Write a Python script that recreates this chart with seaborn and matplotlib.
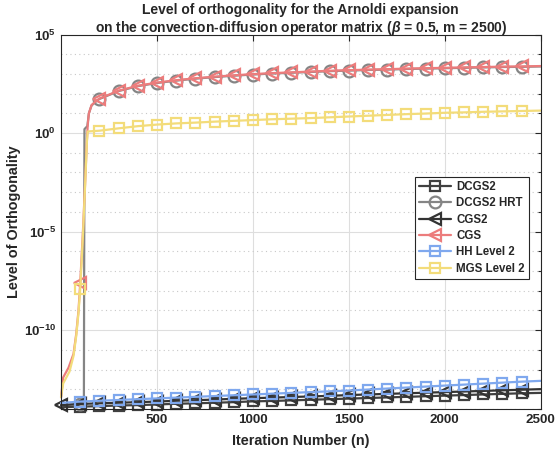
import numpy as np
import matplotlib
matplotlib.use("Agg")
import matplotlib.pyplot as plt
from matplotlib.ticker import FixedLocator, FuncFormatter, NullFormatter
import seaborn as sns

# Iterations at which the orthogonality level was sampled
n_main = [1, 101, 201, 301, 401, 501, 601, 701, 801, 901, 1001, 1101, 1201,
          1301, 1401, 1501, 1601, 1701, 1801, 1901, 2001, 2101, 2201, 2301,
          2401, 2500]

# log10 of the loss of orthogonality, per method
dcgs2_log10 = [-13.90, -13.88, -13.85, -13.82, -13.80, -13.77, -13.73, -13.71,
               -13.68, -13.65, -13.61, -13.59, -13.56, -13.53, -13.50, -13.47,
               -13.44, -13.41, -13.38, -13.35, -13.32, -13.29, -13.26, -13.23,
               -13.20, -13.18]
cgs2_log10 = [-13.80, -13.74, -13.71, -13.68, -13.65, -13.62, -13.58, -13.55,
              -13.52, -13.48, -13.45, -13.42, -13.39, -13.36, -13.33, -13.29,
              -13.26, -13.23, -13.20, -13.17, -13.14, -13.11, -13.08, -13.05,
              -13.02, -12.99]
hh_log10 = [-13.69, -13.62, -13.58, -13.54, -13.50, -13.46, -13.42, -13.38,
            -13.34, -13.30, -13.26, -13.22, -13.18, -13.14, -13.10, -13.06,
            -13.01, -12.96, -12.91, -12.86, -12.81, -12.76, -12.71, -12.66,
            -12.61, -12.57]

n_cgs = [1, 12, 40, 66, 80, 92, 101, 115, 127, 135, 140, 146, 160, 185, 201,
         301, 401, 501, 601, 701, 801, 901, 1001, 1101, 1201, 1301, 1401,
         1501, 1601, 1701, 1801, 1901, 2001, 2101, 2201, 2301, 2401, 2500]
cgs_log10 = [-13.40, -12.40, -11.90, -11.20, -10.20, -9.00, -7.60, -5.00,
             -2.40, -0.50, 0.40, 1.00, 1.42, 1.64, 1.75, 2.15, 2.40, 2.56,
             2.68, 2.78, 2.86, 2.93, 2.99, 3.04, 3.08, 3.12, 3.16, 3.19, 3.22,
             3.24, 3.27, 3.29, 3.31, 3.33, 3.35, 3.37, 3.38, 3.40]

n_hrt = [1, 101, 120, 123, 138, 146, 160, 185, 201, 301, 401, 501, 601, 701,
         801, 901, 1001, 1101, 1201, 1301, 1401, 1501, 1601, 1701, 1801, 1901,
         2001, 2101, 2201, 2301, 2401, 2500]
hrt_log10 = [-13.80, -13.75, -13.72, 0.20, 0.35, 1.00, 1.40, 1.62, 1.73, 2.13,
             2.38, 2.54, 2.66, 2.76, 2.84, 2.91, 2.97, 3.02, 3.06, 3.10, 3.14,
             3.17, 3.20, 3.22, 3.25, 3.27, 3.29, 3.31, 3.33, 3.35, 3.36, 3.38]

n_mgs = [1, 12, 45, 66, 80, 92, 101, 115, 127, 136, 140, 201, 301, 401, 501,
         601, 701, 801, 901, 1001, 1101, 1201, 1301, 1401, 1501, 1601, 1701,
         1801, 1901, 2001, 2101, 2201, 2301, 2401, 2500]
mgs_log10 = [-13.40, -12.70, -12.10, -11.30, -10.30, -9.10, -7.90, -5.20,
             -2.50, -0.40, 0.08, 0.12, 0.24, 0.35, 0.43, 0.49, 0.53, 0.58,
             0.62, 0.66, 0.70, 0.73, 0.76, 0.80, 0.84, 0.88, 0.92, 0.96, 0.99,
             1.03, 1.05, 1.08, 1.10, 1.12, 1.14]

labels = ["DCGS2", "DCGS2 HRT", "CGS2", "CGS", "HH Level 2", "MGS Level 2"]
x_ticks = [500, 1000, 1500, 2000, 2500]
y_major_exp = [-10, -5, 0, 5]

sns.set_style("white")
plt.rcParams["font.family"] = ["Liberation Sans", "DejaVu Sans"]
plt.rcParams["font.weight"] = "bold"
plt.rcParams["mathtext.fontset"] = "custom"
plt.rcParams["mathtext.rm"] = "Liberation Sans:bold"
plt.rcParams["mathtext.bf"] = "Liberation Sans:bold"
plt.rcParams["mathtext.it"] = "Liberation Sans:italic:bold"

fig = plt.figure(figsize=(5.55, 4.54), dpi=100)
ax = fig.add_axes([0.110, 0.099, 0.864, 0.825])
ax.set_yscale("log")

series = [
    (n_main, dcgs2_log10, "#404040", "s", False),
    (n_hrt, hrt_log10, "#858585", "o", False),
    (n_main, cgs2_log10, "#333333", "<", True),
    (n_cgs, cgs_log10, "#ec7c7c", "<", False),
    (n_main, hh_log10, "#7fa8ee", "s", False),
    (n_mgs, mgs_log10, "#f3dc7a", "s", False),
]

handles = []
for (xs, ylog, col, mk, first), lab in zip(series, labels):
    xs = np.asarray(xs)
    ys = 10.0 ** np.asarray(ylog)
    marks = [i for i, v in enumerate(xs) if (v - 1) % 100 == 0 and (v > 1 or first)]
    sns.lineplot(x=xs, y=ys, ax=ax, color=col, linewidth=1.6, marker=mk,
                 markersize=8.5 if mk != "s" else 7.5, markevery=marks,
                 markerfacecolor="none", markeredgecolor=col,
                 markeredgewidth=1.6, clip_on=False, sort=False,
                 estimator=None)
    handles.append(ax.lines[-1])

ax.set_xlim(1, 2500)
ax.set_ylim(1e-14, 1e5)

ax.xaxis.set_major_locator(FixedLocator(x_ticks))
ax.yaxis.set_major_locator(FixedLocator([10.0 ** e for e in y_major_exp]))
ax.yaxis.set_minor_locator(FixedLocator([10.0 ** e for e in range(-14, 6)]))
ax.yaxis.set_minor_formatter(NullFormatter())
ax.yaxis.set_major_formatter(
    FuncFormatter(lambda v, p: r"$\mathregular{10^{%d}}$" % round(np.log10(v))))

ax.grid(True, which="major", color="#dedede", linewidth=0.8, linestyle="-")
ax.grid(True, which="minor", axis="y", color="#c8c8c8", linewidth=0.8,
        linestyle=(0, (1, 3)))
ax.set_axisbelow(True)

ax.tick_params(which="both", direction="in", top=True, right=True,
               labelsize=9.6, width=0.8, color="#262626")
ax.tick_params(which="major", length=4)
ax.tick_params(which="minor", length=2.5)
for lab in ax.get_xticklabels() + ax.get_yticklabels():
    lab.set_fontweight("bold")
for sp in ax.spines.values():
    sp.set_color("#262626")
    sp.set_linewidth(0.8)

ax.set_xlabel("Iteration Number (n)", fontsize=10.4, fontweight="bold")
ax.set_ylabel("Level of Orthogonality", fontsize=10.4, fontweight="bold")
ax.xaxis.set_label_coords(0.5, -0.085, transform=ax.transAxes)
ax.yaxis.set_label_coords(-0.098, 0.5, transform=ax.transAxes)
ax.xaxis.label.set_va("center")
ax.yaxis.label.set_va("center")
ax.set_title("Level of orthogonality for the Arnoldi expansion\n"
             r"on the convection-diffusion operator matrix ($\beta$ = 0.5, m = 2500)",
             fontsize=10, fontweight="bold", pad=1.5, linespacing=1.15)

leg = ax.legend(handles, labels, loc="upper left",
                bbox_to_anchor=(0.738, 0.620), fontsize=8.3, frameon=True,
                fancybox=False, framealpha=1, edgecolor="#262626",
                borderpad=0.35, labelspacing=0.38, handlelength=2.8,
                handletextpad=0.45, borderaxespad=0)
leg.get_frame().set_linewidth(0.8)
for t in leg.get_texts():
    t.set_fontweight("bold")

fig.savefig("out.png", dpi=100)
